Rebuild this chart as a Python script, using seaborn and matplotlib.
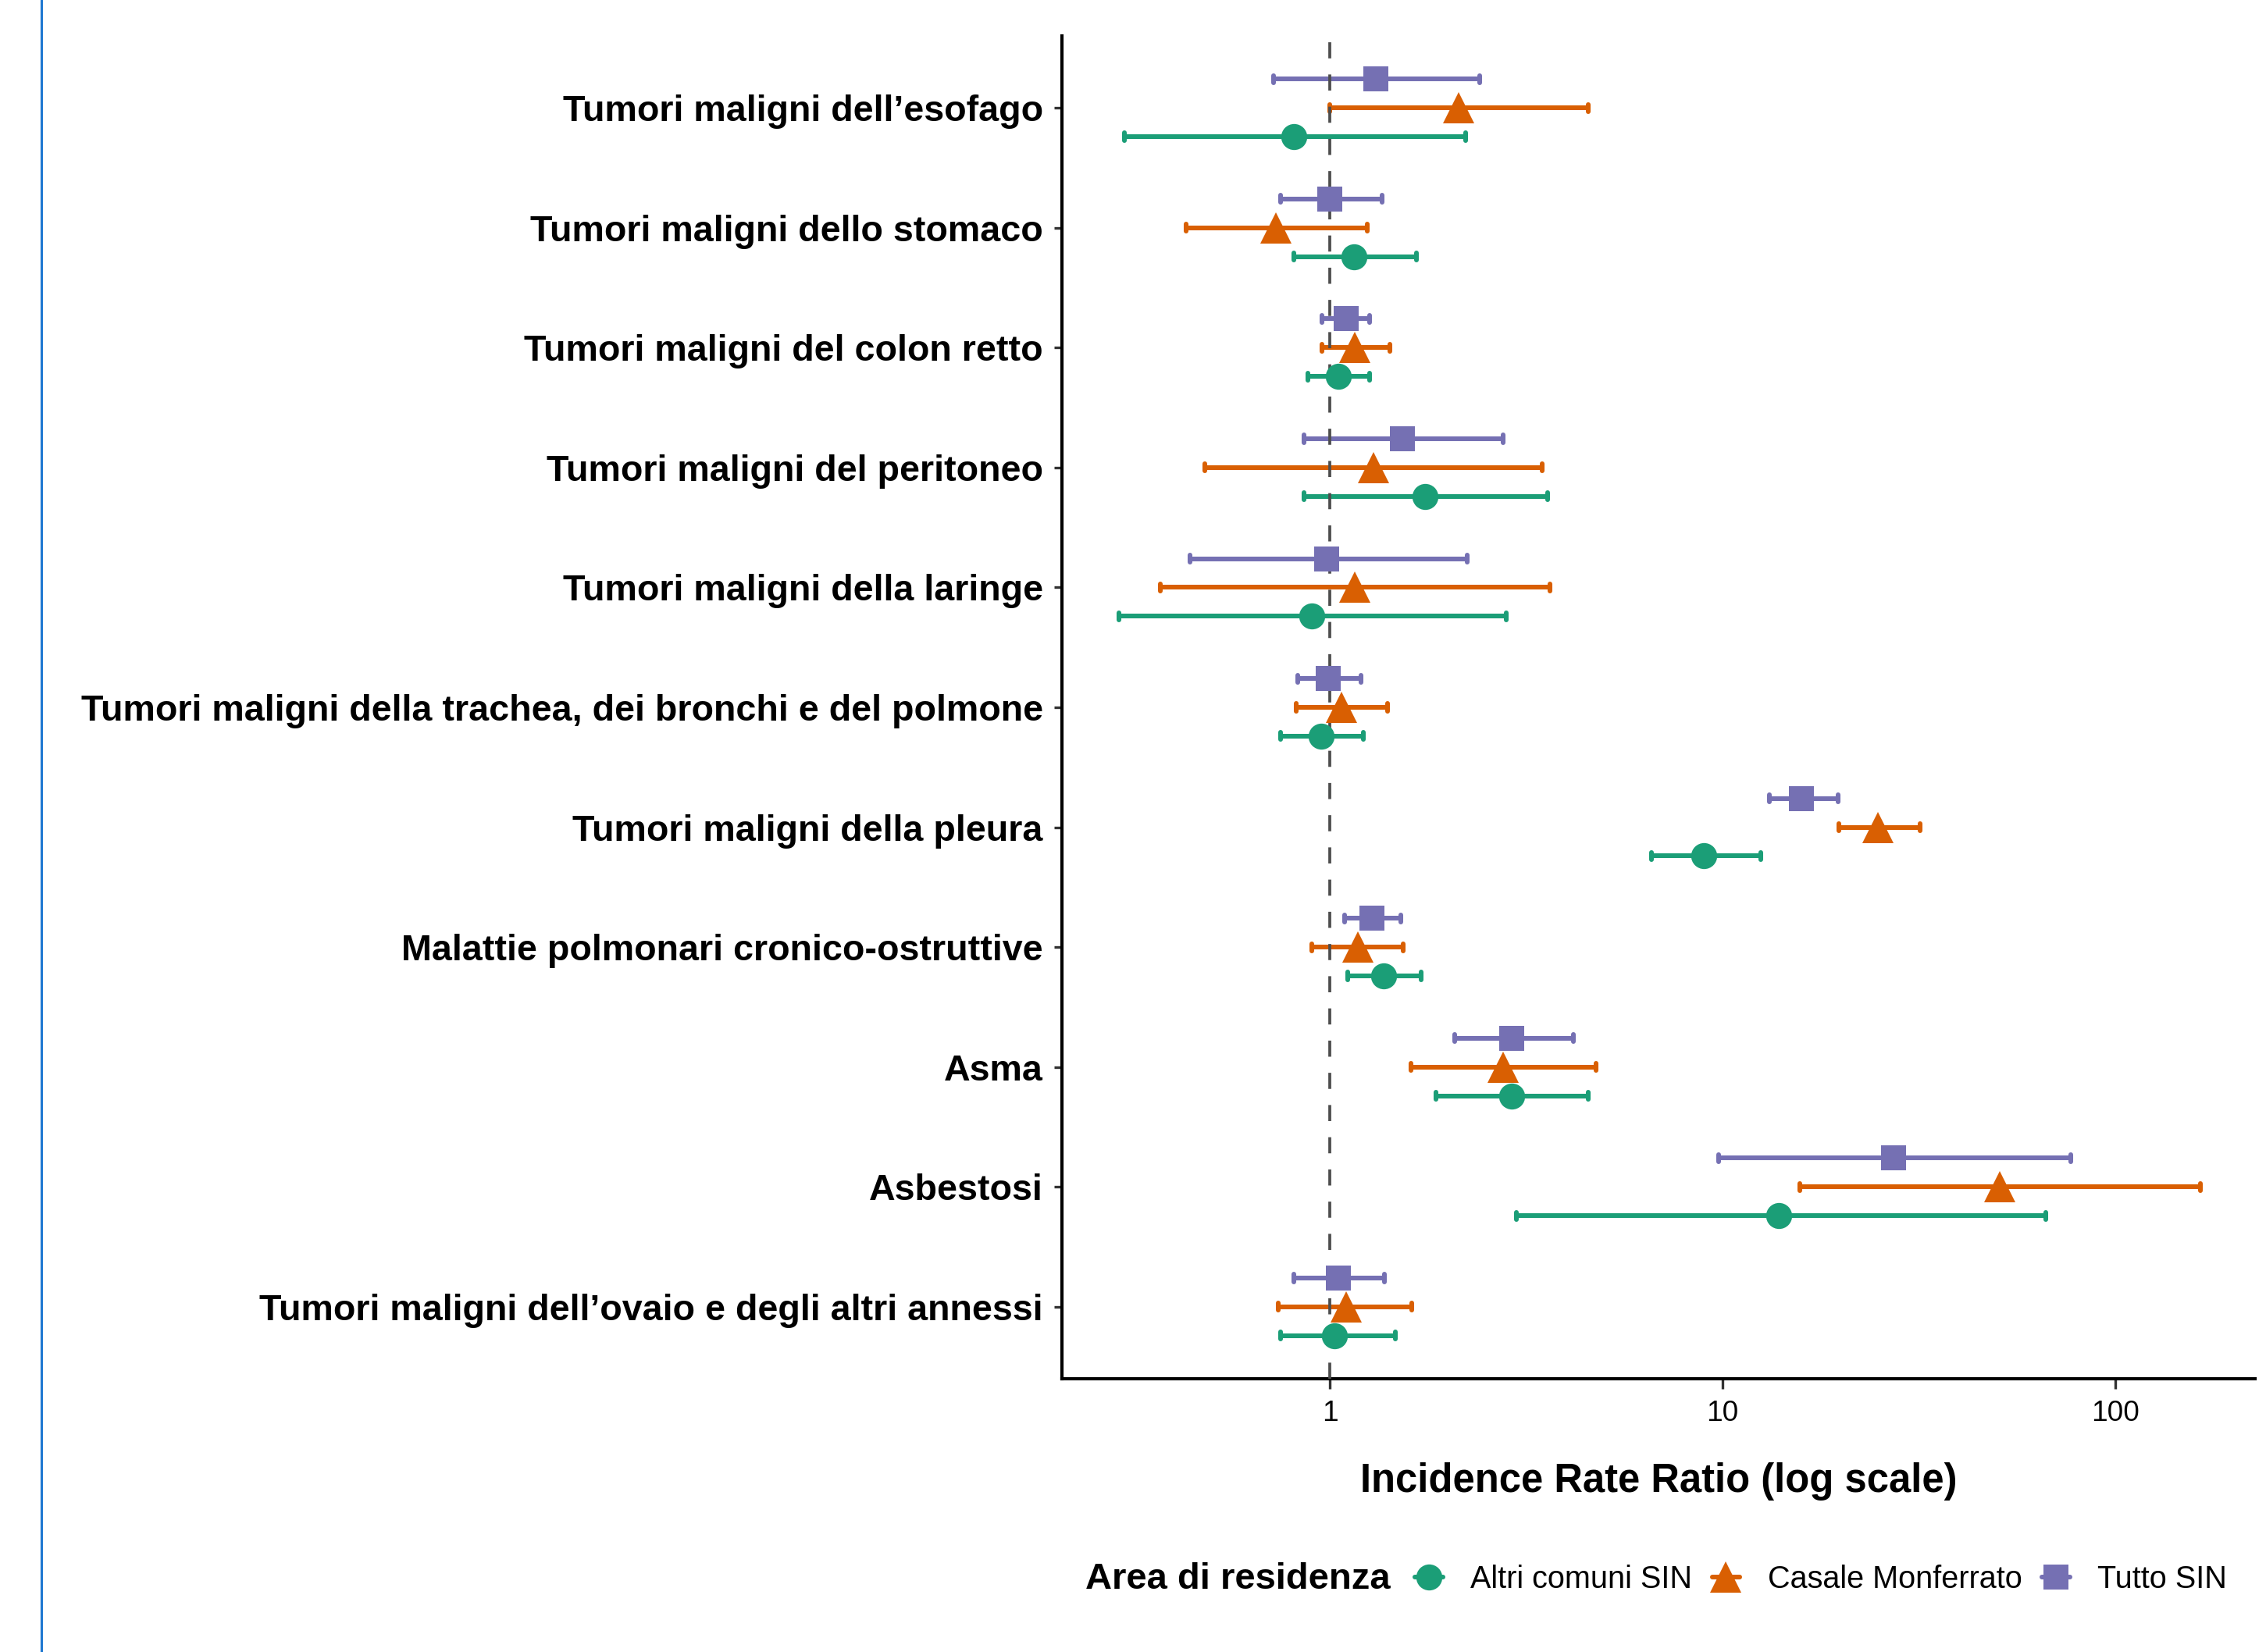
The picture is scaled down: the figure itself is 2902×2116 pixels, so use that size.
import numpy as np
import pandas as pd
import matplotlib
matplotlib.use("Agg")
import matplotlib.pyplot as plt
from matplotlib.lines import Line2D
import seaborn as sns

# Outcomes (top to bottom)
categories = [
    "Tumori maligni dell’esofago",
    "Tumori maligni dello stomaco",
    "Tumori maligni del colon retto",
    "Tumori maligni del peritoneo",
    "Tumori maligni della laringe",
    "Tumori maligni della trachea, dei bronchi e del polmone",
    "Tumori maligni della pleura",
    "Malattie polmonari cronico-ostruttive",
    "Asma",
    "Asbestosi",
    "Tumori maligni dell’ovaio e degli altri annessi",
]

areas = ["Altri comuni SIN", "Casale Monferrato", "Tutto SIN"]

# Incidence rate ratios with 95% confidence limits
altri_irr = [0.81, 1.15, 1.05, 1.75, 0.90, 0.95, 8.96, 1.37, 2.90, 13.9, 1.03]
altri_lo = [0.30, 0.81, 0.88, 0.86, 0.29, 0.75, 6.60, 1.11, 1.86, 2.99, 0.75]
altri_hi = [2.22, 1.66, 1.26, 3.59, 2.82, 1.22, 12.5, 1.71, 4.56, 66.6, 1.47]

casale_irr = [2.13, 0.73, 1.16, 1.29, 1.16, 1.07, 24.9, 1.18, 2.76, 50.9, 1.10]
casale_lo = [1.00, 0.43, 0.955, 0.48, 0.37, 0.82, 19.8, 0.90, 1.61, 15.7, 0.74]
casale_hi = [4.56, 1.245, 1.42, 3.48, 3.63, 1.40, 31.8, 1.54, 4.77, 165.0, 1.62]

tutto_irr = [1.31, 1.00, 1.10, 1.53, 0.98, 0.99, 15.9, 1.28, 2.91, 27.2, 1.05]
tutto_lo = [0.72, 0.75, 0.955, 0.86, 0.44, 0.83, 13.15, 1.09, 2.08, 9.78, 0.81]
tutto_hi = [2.41, 1.36, 1.26, 2.76, 2.24, 1.20, 19.7, 1.52, 4.18, 77.1, 1.38]

colors = {"Altri comuni SIN": "#1B9E77",
          "Casale Monferrato": "#D95F02",
          "Tutto SIN": "#7570B3"}
shapes = {"Altri comuni SIN": "o",
          "Casale Monferrato": "^",
          "Tutto SIN": "s"}
sizes = {"o": 8.0, "^": 9.4, "s": 7.8}

series = {
    "Altri comuni SIN": (altri_lo, altri_irr, altri_hi),
    "Casale Monferrato": (casale_lo, casale_irr, casale_hi),
    "Tutto SIN": (tutto_lo, tutto_irr, tutto_hi),
}

# Long table: each estimate with its two confidence limits; the median of the
# three is the point estimate and the min/max give the interval.
rows = []
for area, (lo, est, hi) in series.items():
    for cat, a, b, c in zip(categories, lo, est, hi):
        for v in (a, b, c):
            rows.append({"outcome": cat, "area": area, "irr": v})
df = pd.DataFrame(rows)

sns.set_theme(style="ticks")
plt.rcParams["font.family"] = ["Liberation Sans", "DejaVu Sans"]
plt.rcParams["text.color"] = "black"
plt.rcParams["axes.labelcolor"] = "black"

W, H = 2902, 2116
DPI = 300
fig = plt.figure(figsize=(W / DPI, H / DPI), dpi=DPI)
ax = fig.add_axes([1360 / W, 1 - 1766 / H, (2888 - 1360) / W, (1766 - 46) / H])
ax.set_xscale("log")

draw_order = ["Tutto SIN", "Casale Monferrato", "Altri comuni SIN"]
sns.pointplot(
    data=df, x="irr", y="outcome", hue="area",
    order=categories, hue_order=draw_order,
    palette=colors, markers=[shapes[a] for a in draw_order],
    estimator=np.median, errorbar=lambda v: (np.min(v), np.max(v)),
    dodge=0.48, linestyle="none", capsize=0.06,
    err_kws={"linewidth": 1.45}, markersize=8.0, markeredgewidth=0,
    legend=False, ax=ax,
)

# Point markers sit above the reference line and the intervals
for ln in ax.lines:
    m = ln.get_marker()
    if m in sizes:
        ln.set_zorder(4)
        ln.set_markersize(sizes[m])

ax.axvline(1, color="#4d4d4d", lw=0.9, ls=(0, (5.5, 5.5)), zorder=3)

ax.set_xlim(10 ** -0.682, 10 ** 2.356)
ax.set_ylim(len(categories) - 0.4, -0.6)
ax.set_xticks([1, 10, 100])
ax.set_xticklabels(["1", "10", "100"])
ax.xaxis.set_minor_locator(matplotlib.ticker.NullLocator())

for side in ("top", "right"):
    ax.spines[side].set_visible(False)
for side in ("left", "bottom"):
    ax.spines[side].set_linewidth(1.0)
    ax.spines[side].set_color("black")

ax.tick_params(axis="y", length=2.4, width=0.8, color="#333333", pad=3.4,
               labelsize=11.2, labelcolor="black")
ax.tick_params(axis="x", length=3.0, width=0.8, color="#333333", pad=3.4,
               labelsize=8.9, labelcolor="black")
for t in ax.get_yticklabels():
    t.set_fontweight("bold")

ax.set_ylabel("")
ax.set_xlabel("Incidence Rate Ratio (log scale)", fontsize=12.2,
              fontweight="bold", labelpad=11, color="black")

# Legend along the bottom, title to the left of the keys
handles = [Line2D([0], [0], color=colors[a], marker=shapes[a],
                  markersize=sizes[shapes[a]], markeredgewidth=0, lw=1.45)
           for a in areas]
leg = fig.legend(handles, areas, loc="center left", ncol=3, frameon=False,
                 bbox_to_anchor=(1812 / W, 1 - 2023 / H), fontsize=9.5,
                 handlelength=0.9, handletextpad=0.9, columnspacing=0.64,
                 borderpad=0, borderaxespad=0, labelcolor="black")
fig.text(1781 / W, 1 - 2023 / H, "Area di residenza", ha="right", va="center",
         fontsize=11.3, fontweight="bold", color="black")

# Vertical rule at the left edge of the page
fig.add_artist(Line2D([53 / W, 53 / W], [0, 1], color="#1f78d1", lw=0.75))

fig.savefig("out.png", dpi=DPI)
